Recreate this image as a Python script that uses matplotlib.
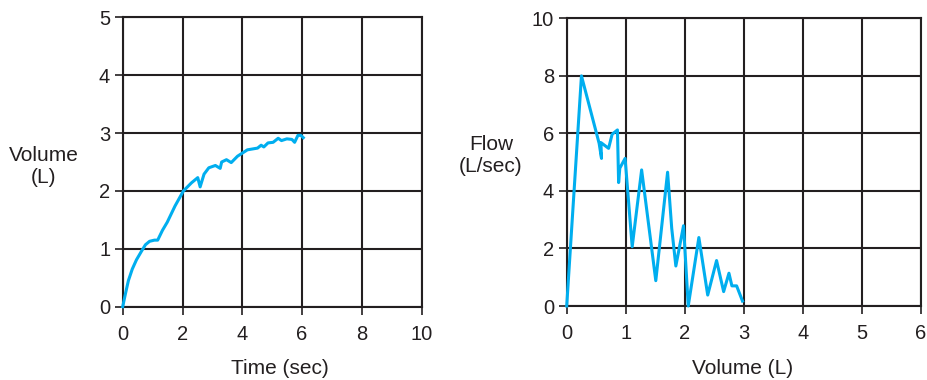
import numpy as np
import matplotlib.pyplot as plt

plt.rcParams['font.family'] = ['Liberation Sans', 'DejaVu Sans']

temps = [0, 0.09, 0.19, 0.32, 0.46, 0.63, 0.76, 0.90, 1.06, 1.17, 1.33, 1.49,
         1.75, 2.03, 2.30, 2.51, 2.59, 2.72, 2.88, 3.10, 3.26, 3.31, 3.47, 3.63,
         3.84, 4.17, 4.51, 4.63, 4.72, 4.86, 5.03, 5.20, 5.31, 5.49, 5.66, 5.75,
         5.86, 5.96, 6.04]
volume = [0, 0.22, 0.45, 0.65, 0.81, 0.96, 1.07, 1.13, 1.15, 1.15, 1.32, 1.46,
          1.74, 2.0, 2.14, 2.23, 2.07, 2.29, 2.40, 2.44, 2.39, 2.50, 2.54, 2.49,
          2.60, 2.71, 2.74, 2.79, 2.76, 2.83, 2.84, 2.91, 2.87, 2.90, 2.89, 2.84,
          2.96, 2.96, 2.92]

# données du graphique de droite (volume en L, débit en L/s)
vol_debit = [0, 0.25, 0.55, 0.59, 0.58, 0.71, 0.77, 0.86, 0.88, 0.90, 0.99, 1.11,
             1.27, 1.51, 1.71, 1.78, 1.85, 1.98, 2.06, 2.24, 2.39, 2.54, 2.66,
             2.75, 2.80, 2.88, 2.98]
debit = [0, 8.0, 5.65, 5.13, 5.68, 5.48, 5.97, 6.12, 4.29, 4.79, 5.13, 2.06,
         4.73, 0.88, 4.65, 2.7, 1.39, 2.79, 0, 2.38, 0.38, 1.58, 0.5,
         1.14, 0.7, 0.7, 0.17]

W, H = 927, 380
encre = '#231f20'
bleu = '#00aeef'

fig = plt.figure(figsize=(W / 100, H / 100), dpi=100)


def axes_px(x0, x1, y0, y1):
    # position en pixels (origine en haut à gauche) -> coordonnées figure
    return fig.add_axes([x0 / W, (H - y1) / H, (x1 - x0) / W, (y1 - y0) / H])


def style(ax, xmax, xstep, ymax, ystep):
    ax.set_xlim(0, xmax)
    ax.set_ylim(0, ymax)
    ax.set_xticks(np.arange(0, xmax + xstep / 2, xstep))
    ax.set_yticks(np.arange(0, ymax + ystep / 2, ystep))
    ax.grid(True, color=encre, linewidth=1.5)
    ax.set_axisbelow(True)
    for s in ax.spines.values():
        s.set_color(encre)
        s.set_linewidth(1.5)
    ax.tick_params(direction='out', length=6, width=1.2, color=encre,
                   labelsize=14.5, labelcolor=encre)
    ax.tick_params(axis='x', pad=7)
    ax.tick_params(axis='y', pad=3)


ax1 = axes_px(122.7, 421.7, 17.3, 306.7)
style(ax1, 10, 2, 5, 1)
ax1.plot(temps, volume, color=bleu, lw=2.2, clip_on=False, zorder=3,
         solid_joinstyle='round')

ax2 = axes_px(566.7, 920.7, 18.3, 306.0)
style(ax2, 6, 1, 10, 2)
ax2.plot(vol_debit, debit, color=bleu, lw=2.2, clip_on=False, zorder=3)


def texte(x, y, s):
    fig.text(x / W, 1 - y / H, s, ha='center', va='center', fontsize=15,
             color=encre, linespacing=1.2)


texte(44, 167, 'Volume\n(L)')
texte(280, 369, 'Time (sec)')
texte(491, 156, 'Flow\n(L/sec)')
texte(743, 369, 'Volume (L)')

fig.savefig('out.png', dpi=100)
